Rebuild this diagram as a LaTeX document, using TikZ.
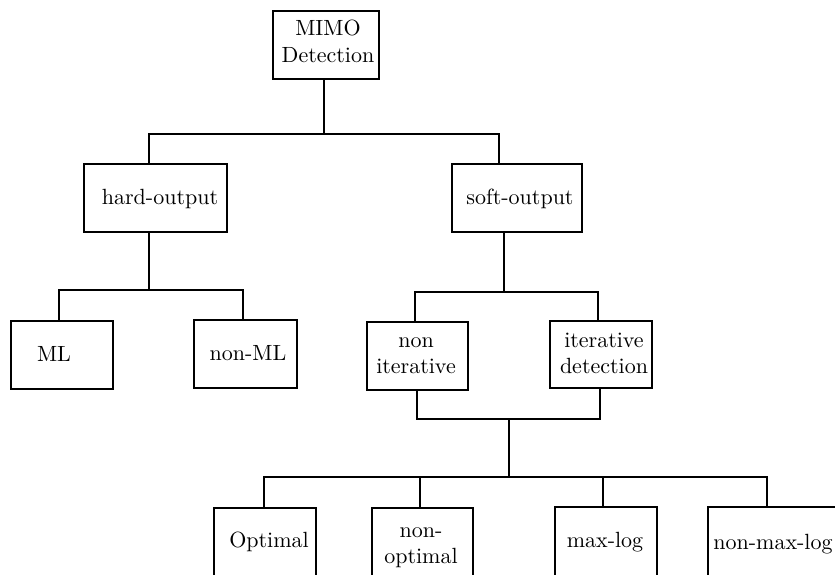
\documentclass[tikz,border=0pt]{standalone}
\usepackage{graphicx}
\newcommand\bigtxt[1]{\scalebox{2.2}{#1}}
\newcommand\twolines[2]{\scalebox{2.2}{\begin{tabular}[t]{@{}c@{}}#1\\#2\end{tabular}}}
\begin{document}
\begin{tikzpicture}[x=1pt,y=-1pt,
  box/.style={draw,line width=1.7pt,inner sep=0pt,rectangle},
  txt/.style={inner sep=0pt,anchor=base},
  conn/.style={line width=1.6pt}]
\useasboundingbox (0,0) rectangle (835,575);
\clip (0,0) rectangle (835,575);
% boxes
\node[box,minimum width=106pt,minimum height=68pt] (mimo) at (326,45) {};
\node[box,minimum width=143pt,minimum height=68pt] (hard) at (155.5,198) {};
\node[box,minimum width=130pt,minimum height=68pt] (soft) at (517,198) {};
\node[box,minimum width=102pt,minimum height=68pt] (ml) at (62,355) {};
\node[box,minimum width=103pt,minimum height=68pt] (nonml) at (245.5,354) {};
\node[box,minimum width=101pt,minimum height=68pt] (noniter) at (417.5,356) {};
\node[box,minimum width=102pt,minimum height=67pt] (iterdet) at (601,354.5) {};
\node[box,minimum width=102pt,minimum height=92pt] (optimal) at (265,554) {};
\node[box,minimum width=101pt,minimum height=92pt] (nonopt) at (422.5,554) {};
\node[box,minimum width=102pt,minimum height=93pt] (maxlog) at (606,553.5) {};
\node[box,minimum width=137pt,minimum height=93pt] (nonmaxlog) at (776.5,553.5) {};
% texts
\node[txt] (tmimo) at (328,36) {\twolines{MIMO}{Detection}};
\node[txt] (thard) at (160,204) {\bigtxt{hard-output}};
\node[txt] (tsoft) at (520,204) {\bigtxt{soft-output}};
\node[txt] (tml) at (54,361) {\bigtxt{ML}};
\node[txt] (tnonml) at (248,360) {\bigtxt{non-ML}};
\node[txt] (tnoniter) at (416,347) {\twolines{non}{iterative}};
\node[txt] (titerdet) at (604,347) {\twolines{iterative}{detection}};
\node[txt] (topt) at (269,547) {\bigtxt{Optimal}};
\node[txt] (tnonopt) at (421,537) {\twolines{non-}{optimal}};
\node[txt] (tmaxlog) at (605,547) {\bigtxt{max-log}};
\node[txt] (tnonmaxlog) at (773,549) {\bigtxt{non-max-log}};
% junction coordinates
\coordinate (a0) at (324,134);
\coordinate (al) at (149,134);
\coordinate (ar) at (499,134);
\coordinate (b0) at (149,290);
\coordinate (bl) at (59,290);
\coordinate (br) at (243,290);
\coordinate (c0) at (504,292);
\coordinate (cl) at (415,292);
\coordinate (cr) at (598,292);
\coordinate (dl) at (417,419);
\coordinate (dr) at (600,419);
\coordinate (d0) at (509,419);
\coordinate (e0) at (509,477);
\coordinate (e1) at (264,477);
\coordinate (e2) at (420,477);
\coordinate (e3) at (603,477);
\coordinate (e4) at (767,477);
% connectors
\draw[conn] (a0 |- mimo.south) -- (a0);
\draw[conn] (al |- hard.north) -- (al) -- (ar) -- (ar |- soft.north);
\draw[conn] (b0 |- hard.south) -- (b0);
\draw[conn] (bl |- ml.north) -- (bl) -- (br) -- (br |- nonml.north);
\draw[conn] (c0 |- soft.south) -- (c0);
\draw[conn] (cl |- noniter.north) -- (cl) -- (cr) -- (cr |- iterdet.north);
\draw[conn] (dl |- noniter.south) -- (dl) -- (dr) -- (dr |- iterdet.south);
\draw[conn] (d0) -- (e0);
\draw[conn] (e1 |- optimal.north) -- (e1) -- (e4) -- (e4 |- nonmaxlog.north);
\draw[conn] (e2) -- (e2 |- nonopt.north);
\draw[conn] (e3) -- (e3 |- maxlog.north);
\end{tikzpicture}
\end{document}
